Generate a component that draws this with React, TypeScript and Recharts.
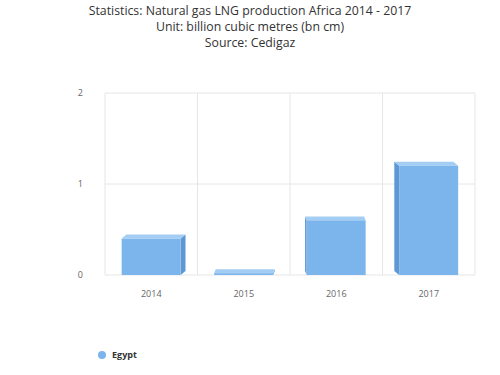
import { Bar, BarChart, CartesianGrid, XAxis, YAxis } from 'recharts';

const years = ['2014', '2015', '2016', '2017'];
const egypt = [0.4, 0.02, 0.6, 1.2];
const yTicks = [0, 1, 2];

const titleLines = [
  'Statistics: Natural gas LNG production Africa 2014 - 2017',
  'Unit: billion cubic metres (bn cm)',
  'Source: Cedigaz',
];

const chartData = years.map((year, i) => ({ year, egypt: egypt[i] }));

const font = '"Open Sans", "DejaVu Sans", sans-serif';

// fake 3d column: front face plus a side and a top face
function Column3D(props: any) {
  const { x, y, width, height } = props;
  if (width == null || height == null) return null;
  const cx = x + width / 2;
  const dx = (290 - cx) * 0.035;
  const dy = -4;
  const side =
    dx >= 0
      ? `${x + width},${y} ${x + width + dx},${y + dy} ${x + width + dx},${y + height + dy} ${x + width},${y + height}`
      : `${x},${y} ${x + dx},${y + dy} ${x + dx},${y + height + dy} ${x},${y + height}`;
  const top = `${x},${y} ${x + dx},${y + dy} ${x + width + dx},${y + dy} ${x + width},${y}`;
  return (
    <g>
      <polygon points={side} fill="#5d98d4" />
      <polygon points={top} fill="#a3cdf3" />
      <rect x={x} y={y} width={width} height={Math.max(height, 1)} fill="#7cb5ec" />
    </g>
  );
}

export default function App() {
  return (
    <div style={{ position: 'relative', width: 500, height: 375, fontFamily: font }}>
      <style>{'body{margin:0}'}</style>
      <div
        style={{
          position: 'absolute',
          top: 3,
          left: 0,
          width: 500,
          textAlign: 'center',
          fontSize: 12.3,
          lineHeight: '16px',
          color: '#333',
        }}
      >
        {titleLines.map((line) => (
          <div key={line}>{line}</div>
        ))}
      </div>
      <BarChart
        width={500}
        height={375}
        data={chartData}
        margin={{ top: 93, right: 25, bottom: 70, left: 0 }}
        barCategoryGap="18%"
      >
        <CartesianGrid
          stroke="#e6e6e6"
          verticalCoordinatesGenerator={({ offset }: any) => {
            const step = offset.width / years.length;
            return years.map((_, i) => offset.left + step * i).concat(offset.left + offset.width);
          }}
        />
        <XAxis
          dataKey="year"
          height={30}
          axisLine={false}
          tickLine={false}
          tickMargin={10}
          tick={{ fill: '#666', fontSize: 9, fontFamily: font }}
        />
        <YAxis
          width={105}
          domain={[0, 2]}
          ticks={yTicks}
          axisLine={false}
          tickLine={false}
          tickMargin={16}
          tick={{ fill: '#666', fontSize: 9, fontFamily: font }}
        />
        <Bar dataKey="egypt" fill="#7cb5ec" shape={<Column3D />} isAnimationActive={false} />
      </BarChart>
      <div
        style={{
          position: 'absolute',
          top: 348,
          left: 98,
          display: 'flex',
          alignItems: 'center',
          fontSize: 9,
          fontWeight: 'bold',
          color: '#333',
        }}
      >
        <span
          style={{
            display: 'inline-block',
            width: 8,
            height: 8,
            borderRadius: 4,
            background: '#7cb5ec',
            marginRight: 6,
          }}
        />
        Egypt
      </div>
    </div>
  );
}
